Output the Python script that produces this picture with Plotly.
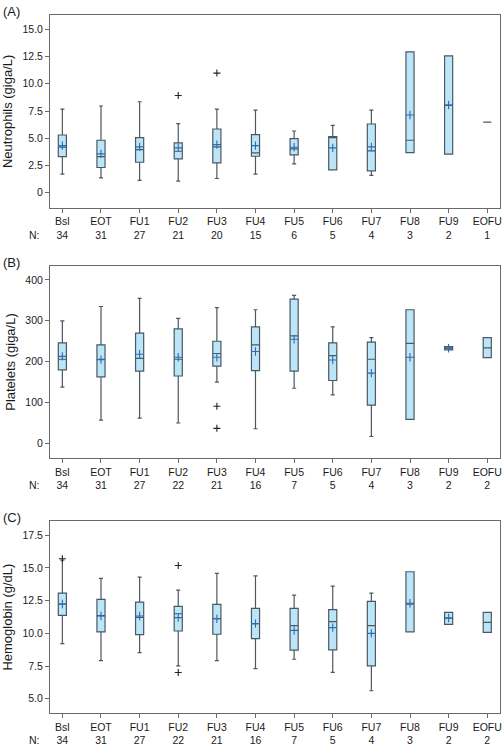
import plotly.graph_objects as go

categories = ["Bsl", "EOT", "FU1", "FU2", "FU3", "FU4", "FU5", "FU6", "FU7", "FU8", "FU9", "EOFU"]

# Panel A: Neutrophils (giga/L)
neut_n = [34, 31, 27, 21, 20, 15, 6, 5, 4, 3, 2, 1]
neut_lower = [1.71, 1.37, 1.13, 1.07, 1.31, 1.71, 2.65, 2.10, 1.59, 3.69, 3.54, 6.49]
neut_q1 = [3.32, 2.32, 2.80, 3.11, 2.74, 3.35, 3.48, 2.10, 2.01, 3.69, 3.54, 6.49]
neut_median = [4.18, 3.32, 3.96, 3.81, 4.21, 3.66, 4.02, 5.09, 3.84, 4.82, 8.02, 6.49]
neut_q3 = [5.30, 4.82, 5.06, 4.57, 5.85, 5.34, 4.97, 5.15, 6.31, 12.93, 12.56, 6.49]
neut_upper = [7.68, 7.96, 8.35, 6.34, 7.68, 7.59, 5.67, 6.19, 7.59, 12.93, 12.56, 6.49]
neut_mean = [4.33, 3.57, 4.21, 4.12, 4.42, 4.33, 4.18, 4.12, 4.21, 7.13, 8.05, None]
neut_out_cat = ["FU2", "FU3"]
neut_out_val = [8.93, 10.98]

# Panel B: Platelets (giga/L)
plt_n = [34, 31, 27, 22, 21, 16, 7, 5, 4, 3, 2, 2]
plt_lower = [138, 57, 62, 50, 150, 36, 135, 119, 17, 59, 229, 210]
plt_q1 = [180, 163, 177, 165, 189, 178, 177, 154, 94, 59, 229, 210]
plt_median = [206, 206, 208, 206, 220, 241, 263, 215, 206, 245, 233, 234]
plt_q3 = [246, 241, 270, 280, 250, 285, 353, 246, 248, 327, 237, 259]
plt_upper = [300, 335, 355, 306, 332, 327, 362, 285, 259, 327, 237, 259]
plt_mean = [213, 205, 218, 211, 211, 225, 255, 204, 172, 211, 233, None]
plt_out_cat = ["FU3", "FU3"]
plt_out_val = [91, 37]

# Panel C: Hemoglobin (g/dL)
hb_n = [34, 31, 27, 22, 21, 16, 7, 5, 4, 3, 2, 2]
hb_lower = [9.22, 7.92, 8.53, 7.52, 7.92, 7.31, 8.02, 7.01, 5.61, 10.11, 10.69, 10.08]
hb_q1 = [11.38, 10.11, 9.90, 10.18, 9.93, 9.60, 8.71, 8.73, 7.52, 10.11, 10.69, 10.08]
hb_median = [12.24, 11.35, 11.22, 11.50, 11.12, 10.74, 10.59, 10.89, 10.59, 12.24, 11.17, 10.84]
hb_q3 = [13.08, 12.60, 12.39, 12.06, 12.22, 11.91, 11.91, 11.81, 12.44, 14.71, 11.61, 11.61]
hb_upper = [15.60, 14.20, 14.30, 13.31, 14.58, 14.40, 12.93, 13.61, 13.08, 14.71, 11.61, 11.61]
hb_mean = [12.24, 11.33, 11.33, 11.20, 11.12, 10.74, 10.23, 10.44, 10.00, 12.30, 11.17, None]
hb_out_cat = ["Bsl", "FU2", "FU2"]
hb_out_val = [15.70, 15.19, 7.01]

panels = [
    dict(label="(A)", title="Neutrophils (giga/L)", n=neut_n, lower=neut_lower, q1=neut_q1,
         median=neut_median, q3=neut_q3, upper=neut_upper, mean=neut_mean,
         out_cat=neut_out_cat, out_val=neut_out_val,
         yrange=[-1.37, 16.31], tickvals=[0, 2.5, 5, 7.5, 10, 12.5, 15],
         ticktext=["0", "2.5", "5.0", "7.5", "10.0", "12.5", "15.0"], dom=[0.7239, 1.0]),
    dict(label="(B)", title="Platelets (giga/L)", n=plt_n, lower=plt_lower, q1=plt_q1,
         median=plt_median, q3=plt_q3, upper=plt_upper, mean=plt_mean,
         out_cat=plt_out_cat, out_val=plt_out_val,
         yrange=[-35.6, 434], tickvals=[0, 100, 200, 300, 400],
         ticktext=["0", "100", "200", "300", "400"], dom=[0.3653, 0.6404]),
    dict(label="(C)", title="Hemoglobin (g/dL)", n=hb_n, lower=hb_lower, q1=hb_q1,
         median=hb_median, q3=hb_q3, upper=hb_upper, mean=hb_mean,
         out_cat=hb_out_cat, out_val=hb_out_val,
         yrange=[3.91, 18.57], tickvals=[5, 7.5, 10, 12.5, 15, 17.5],
         ticktext=["5.0", "7.5", "10.0", "12.5", "15.0", "17.5"], dom=[0.0, 0.2747]),
]

FONT = "Arial, Liberation Sans, sans-serif"
TXT = "#1a1a1a"
FILL = "#bde5f8"
BOXLINE = "#4a5862"
MEANC = "#2b6cb0"
FRAME = "#6a6a6a"

fig = go.Figure()
layout = dict(
    width=504, height=748,
    margin=dict(l=50, r=2, t=15, b=33),
    paper_bgcolor="white", plot_bgcolor="white",
    showlegend=False,
    font=dict(family=FONT, size=10, color=TXT),
)
annotations = []
for i, p in enumerate(panels):
    k = "" if i == 0 else str(i + 1)
    xa, ya = "x" + k, "y" + k
    fig.add_trace(go.Box(
        x=categories, q1=p["q1"], median=p["median"], q3=p["q3"],
        lowerfence=p["lower"], upperfence=p["upper"],
        xaxis=xa, yaxis=ya, width=0.21, whiskerwidth=0.5,
        fillcolor=FILL, line=dict(color=BOXLINE, width=1.2),
        boxpoints=False, hoverinfo="skip",
    ))
    fig.add_trace(go.Scatter(
        x=categories, y=p["mean"], mode="markers", xaxis=xa, yaxis=ya,
        marker=dict(symbol="cross-thin", size=6, line=dict(color=MEANC, width=1.1)),
        hoverinfo="skip",
    ))
    fig.add_trace(go.Scatter(
        x=p["out_cat"], y=p["out_val"], mode="markers", xaxis=xa, yaxis=ya,
        marker=dict(symbol="cross-thin", size=5, line=dict(color="#222222", width=1.1)),
        hoverinfo="skip",
    ))
    layout["xaxis" + k] = dict(
        domain=[0, 1], anchor=ya, type="category", categoryorder="array",
        categoryarray=categories, range=[-0.32, 11.33],
        tickvals=categories,
        ticktext=[f"{c}<br>{n}" for c, n in zip(categories, p["n"])],
        ticks="outside", ticklen=4, tickcolor=FRAME, tickwidth=1,
        showline=True, linecolor=FRAME, linewidth=1, mirror=True,
        showgrid=False, zeroline=False, tickfont=dict(size=10.5, color=TXT),
    )
    layout["yaxis" + k] = dict(
        domain=p["dom"], anchor=xa, range=p["yrange"],
        tickvals=p["tickvals"], ticktext=p["ticktext"],
        ticks="outside", ticklen=4, tickcolor=FRAME, tickwidth=1,
        showline=True, linecolor=FRAME, linewidth=1, mirror=True,
        showgrid=False, zeroline=False, tickfont=dict(size=10.5, color=TXT),
        title=dict(text=p["title"], font=dict(size=13, color=TXT), standoff=6),
    )
    annotations.append(dict(
        text=p["label"], xref="paper", yref=ya + " domain", x=-0.108, y=1.0,
        yshift=4, xanchor="left", yanchor="middle", showarrow=False,
        font=dict(size=13, color=TXT),
    ))
    annotations.append(dict(
        text="N:", xref="paper", yref=ya + " domain", x=-0.018, y=0,
        yshift=-27, xanchor="right", yanchor="middle", showarrow=False,
        font=dict(size=10.5, color=TXT),
    ))
layout["annotations"] = annotations
fig.update_layout(**layout)
fig.write_html(
    "out.html",
    config={"displayModeBar": False},
    post_script="document.body.style.margin='0';document.body.style.padding='0';"
                "document.documentElement.style.overflow='hidden';",
)
